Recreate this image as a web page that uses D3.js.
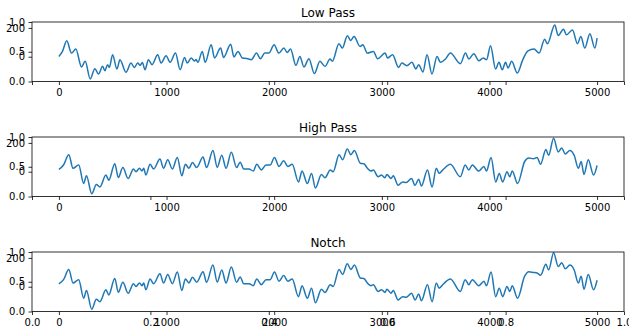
<!DOCTYPE html>
<html>
<head>
<meta charset="utf-8">
<script src="https://cdn.jsdelivr.net/npm/d3@7"></script>
<style>
  body { margin: 0; background: #fff; }
  text { font-family: "DejaVu Sans", sans-serif; fill: #000; }
  .tick line { stroke: #000; stroke-width: 0.8; }
</style>
</head>
<body>
<div id="chart"></div>
<script>
// filter outputs, [sample, amplitude]
const lowPass = [[0, 2], [33, 37], [73, 110], [117, 25], [157, 53], [210, -71], [244, -32], [291, -154],
  [334, -83], [368, -120], [406, -67], [427, -97], [452, -55], [468, -75], [499, 14], [539, -85], [567, -21],
  [623, -108], [670, -44], [701, -74], [732, -44], [755, -60], [775, -40], [800, -90], [831, -21], [865, -55],
  [918, 14], [949, -44], [996, 7], [1033, -39], [1083, 25], [1126, -90], [1167, -5], [1192, -44], [1229, -9],
  [1260, -30], [1275, -20], [1291, -39], [1332, 37], [1359, -39], [1415, 83], [1446, -9], [1502, 60], [1530, -5],
  [1596, 87], [1626, -2], [1664, 37], [1705, -9], [1745, -12], [1788, -21], [1835, 25], [1872, -14], [1913, 25],
  [1950, 25], [2000, 83], [2043, 25], [2090, 60], [2121, 30], [2152, 53], [2202, -60], [2239, 2], [2276, -71],
  [2323, -14], [2373, -117], [2425, -32], [2472, -67], [2519, -16], [2540, -32], [2602, 90], [2633, 60],
  [2680, 145], [2711, 113], [2742, 140], [2798, 71], [2823, 83], [2866, 25], [2922, 37], [2960, -14], [3031, 25],
  [3053, -9], [3100, 14], [3155, -74], [3186, -44], [3233, -62], [3280, -39], [3317, -85], [3342, -55],
  [3382, -106], [3420, 14], [3466, -120], [3513, 2], [3544, -39], [3591, -16], [3637, 25], [3730, -48],
  [3777, 25], [3808, -16], [3855, 21], [3901, -28], [3942, -9], [3973, -21], [4010, 76], [4057, -85],
  [4088, -39], [4119, -90], [4150, -39], [4172, -78], [4206, -32], [4259, -113], [4310, -20], [4358, 41],
  [4414, 53], [4461, 25], [4513, 122], [4538, 90], [4607, 221], [4638, 147], [4688, 191], [4715, 152],
  [4771, 186], [4818, 90], [4849, 140], [4886, 60], [4933, 159], [4979, 60], [5000, 129]];

const highPass = [[0, 17], [43, 47], [92, 118], [131, 24], [184, 47], [230, -82], [256, -28], [305, -153],
  [348, -89], [381, -106], [437, -23], [463, -59], [519, 55], [552, -40], [594, 29], [643, -47], [693, 19],
  [716, 0], [749, 24], [772, 5], [788, 24], [808, -23], [847, 52], [880, 19], [939, 88], [972, 24], [1011, 83],
  [1054, 19], [1100, 99], [1142, -28], [1175, 52], [1208, 24], [1241, 64], [1280, 29], [1339, 102], [1372, 29],
  [1431, 147], [1471, 31], [1513, 114], [1553, 24], [1602, 135], [1651, 29], [1684, 66], [1717, 19], [1766, 19],
  [1806, 5], [1838, 52], [1881, 12], [1924, 47], [1963, 47], [2003, 99], [2045, 36], [2088, 76], [2127, 36],
  [2167, 52], [2226, -71], [2259, 5], [2308, -82], [2347, -12], [2383, -113], [2439, -19], [2472, -42],
  [2521, 12], [2548, 0], [2603, 118], [2636, 83], [2679, 158], [2712, 118], [2745, 147], [2800, 59], [2833, 55],
  [2866, 24], [2899, 5], [2922, 12], [2965, -35], [2997, -23], [3030, -42], [3047, -19], [3086, -47],
  [3106, -28], [3152, -94], [3194, -71], [3227, -75], [3276, -47], [3309, -94], [3342, -52], [3368, -99],
  [3424, 12], [3467, -106], [3506, 24], [3532, -12], [3572, 17], [3637, 52], [3729, -35], [3775, 47],
  [3808, 12], [3841, 47], [3900, 5], [3949, 36], [3972, 5], [4015, 99], [4058, -71], [4091, -12], [4123, -71],
  [4163, 0], [4189, -35], [4212, 5], [4261, -82], [4327, 71], [4366, 95], [4409, 90], [4442, 99], [4475, 52],
  [4524, 154], [4550, 114], [4596, 232], [4639, 137], [4672, 165], [4704, 123], [4747, 147], [4787, 114],
  [4826, 24], [4852, 71], [4878, -19], [4918, 83], [4967, -23], [5000, 43]];

const notch = [[0, 19], [43, 49], [92, 120], [131, 26], [184, 49], [230, -80], [256, -26], [305, -156],
  [348, -87], [381, -104], [437, -21], [463, -57], [519, 57], [552, -38], [594, 31], [643, -45], [693, 21],
  [716, 2], [749, 26], [772, 7], [788, 26], [808, -21], [847, 54], [880, 21], [939, 90], [972, 26], [1011, 85],
  [1054, 21], [1100, 102], [1142, -26], [1175, 54], [1208, 26], [1241, 66], [1280, 31], [1339, 104], [1372, 31],
  [1431, 150], [1471, 33], [1513, 116], [1553, 26], [1602, 137], [1651, 31], [1684, 68], [1717, 21], [1766, 21],
  [1806, 7], [1838, 54], [1881, 14], [1924, 49], [1963, 49], [2003, 102], [2045, 38], [2088, 78], [2127, 38],
  [2167, 54], [2226, -69], [2259, 7], [2308, -80], [2347, -10], [2383, -111], [2439, -17], [2472, -40],
  [2521, 14], [2548, 2], [2603, 120], [2636, 85], [2679, 160], [2712, 120], [2745, 150], [2800, 61], [2833, 57],
  [2866, 26], [2899, 7], [2922, 14], [2965, -33], [2997, -21], [3030, -40], [3047, -17], [3086, -45],
  [3106, -26], [3152, -92], [3194, -69], [3227, -73], [3276, -45], [3309, -92], [3342, -50], [3368, -97],
  [3424, 14], [3467, -104], [3506, 26], [3532, -10], [3572, 19], [3637, 54], [3729, -33], [3775, 49],
  [3808, 14], [3841, 49], [3900, 7], [3949, 38], [3972, 7], [4015, 102], [4058, -69], [4091, -10], [4123, -69],
  [4163, 2], [4189, -33], [4212, 7], [4261, -80], [4327, 73], [4366, 104], [4409, 99], [4442, 95], [4475, 80],
  [4524, 156], [4550, 116], [4596, 235], [4639, 140], [4672, 167], [4704, 125], [4747, 150], [4787, 116],
  [4826, 26], [4852, 73], [4878, -17], [4918, 85], [4967, -21], [5000, 45]];

const titles = ["Low Pass", "High Pass", "Notch"];
const series = [lowPass, highPass, notch];
const xTicks = [0, 1000, 2000, 3000, 4000, 5000];
const yTicks = [0, 200];
const fracXTicks = [0, 0.2, 0.4, 0.6, 0.8, 1.0];
const fracYTicks = [0, 0.5, 1.0];

let width = 629,
    height = 331,
    left = 32, right = 624,
    panelTops = [22, 137, 252],
    panelH = 59.5;

const svg = d3.select("#chart")
  .append("svg")
  .attr("width", width)
  .attr("height", height);

let x = d3.scaleLinear().domain([-250, 5250]).range([left, right]);
let fx = d3.scaleLinear().domain([0, 1]).range([left, right]);

function styleAxis(g) {
  g.select(".domain").remove();
  g.selectAll("text").style("font-size", "10px");
}

series.forEach((data, i) => {
  let top = panelTops[i], bottom = top + panelH;
  let y = d3.scaleLinear().domain([-172, 241]).range([bottom, top]);
  let fy = d3.scaleLinear().domain([0, 1]).range([bottom, top]);

  // underlying 0..1 axes from the subplot grid
  svg.append("g")
    .attr("transform", `translate(0,${bottom})`)
    .call(d3.axisBottom(fx).tickValues(fracXTicks).tickSize(3.5).tickPadding(3.5)
      .tickFormat(i === 2 ? d3.format(".1f") : ""))
    .call(styleAxis);

  svg.append("g")
    .attr("transform", `translate(${left},0)`)
    .call(d3.axisLeft(fy).tickValues(fracYTicks).tickSize(3.5).tickPadding(3.5).tickFormat(d3.format(".1f")))
    .call(styleAxis);

  // data axes on top
  svg.append("g")
    .attr("transform", `translate(0,${bottom})`)
    .call(d3.axisBottom(x).tickValues(xTicks).tickSize(3.5).tickPadding(3.5).tickFormat(d3.format("d")))
    .call(styleAxis);

  svg.append("g")
    .attr("transform", `translate(${left},0)`)
    .call(d3.axisLeft(y).tickValues(yTicks).tickSize(3.5).tickPadding(3.5).tickFormat(d3.format("d")))
    .call(styleAxis);

  let line = d3.line()
    .x(d => x(d[0]))
    .y(d => y(d[1]))
    .curve(d3.curveMonotoneX);

  svg.append("path")
    .datum(data)
    .attr("fill", "none")
    .attr("stroke", "#1f77b4")
    .attr("stroke-width", 1.5)
    .attr("d", line);

  svg.append("rect")
    .attr("x", left)
    .attr("y", top)
    .attr("width", right - left)
    .attr("height", panelH)
    .attr("fill", "none")
    .attr("stroke", "#000")
    .attr("stroke-width", 0.8);

  svg.append("text")
    .text(titles[i])
    .attr("x", (left + right) / 2)
    .attr("y", top - 5.5)
    .attr("text-anchor", "middle")
    .style("font-size", "12px");
});
</script>
</body>
</html>
